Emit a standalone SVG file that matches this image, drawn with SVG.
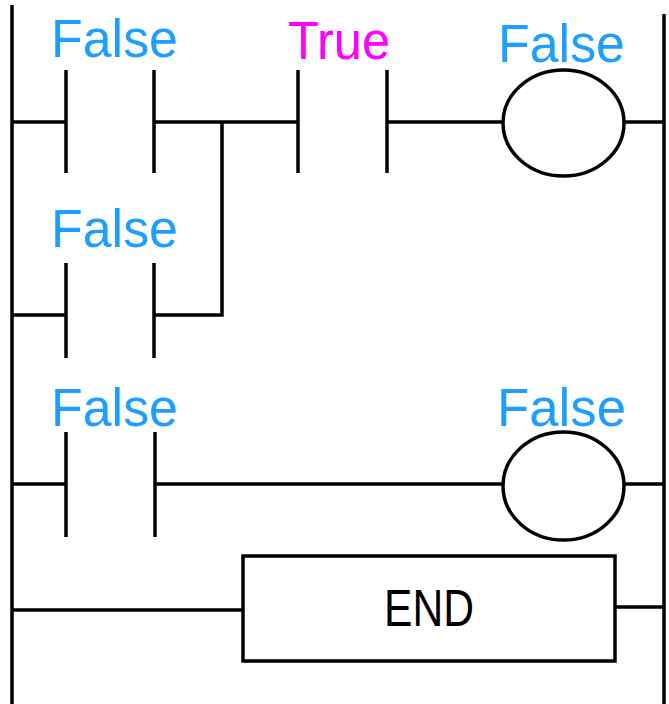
<svg xmlns="http://www.w3.org/2000/svg" width="669" height="704" viewBox="0 0 669 704">
<style>
.w{stroke:#000;stroke-width:3.5;fill:none;stroke-linecap:butt}
.lbl{font-family:"Liberation Sans",Arial,sans-serif;font-size:54px;fill:#1E9FFF}
.tru{fill:#FF00FF}
.end{font-family:"Liberation Sans",Arial,sans-serif;font-size:52px;fill:#000}
</style>
<rect width="669" height="704" fill="#fff"/>
<g id="rails">
<line class="w" x1="12" y1="5" x2="12" y2="704"/>
<line class="w" x1="664" y1="14" x2="664" y2="704"/>
</g>
<g id="connectors">
<line class="w" x1="12" y1="122" x2="66" y2="122"/>
<polyline class="w" points="154,122 298,122"/>
<line class="w" x1="387" y1="122" x2="503" y2="122"/>
<line class="w" x1="624" y1="122" x2="664" y2="122"/>
<line class="w" x1="12" y1="315" x2="66" y2="315"/>
<polyline class="w" points="154,315 222,315 222,122"/>
<line class="w" x1="12" y1="484" x2="66" y2="484"/>
<line class="w" x1="155" y1="484" x2="503" y2="484"/>
<line class="w" x1="624" y1="484" x2="664" y2="484"/>
<line class="w" x1="12" y1="610" x2="243" y2="610"/>
<line class="w" x1="615" y1="607" x2="664" y2="607"/>
</g>
<g id="contact1">
<line class="w" x1="66" y1="70" x2="66" y2="173"/>
<line class="w" x1="154" y1="70" x2="154" y2="173"/>
<text class="lbl" x="51" y="57" textLength="127" lengthAdjust="spacingAndGlyphs">False</text>
</g>
<g id="contact2">
<line class="w" x1="298" y1="70" x2="298" y2="173"/>
<line class="w" x1="387" y1="70" x2="387" y2="173"/>
<text class="lbl tru" x="288" y="59" textLength="102" lengthAdjust="spacingAndGlyphs">True</text>
</g>
<g id="coil1">
<ellipse class="w" cx="563.5" cy="123" rx="60.5" ry="53"/>
<text class="lbl" x="498" y="62" textLength="127" lengthAdjust="spacingAndGlyphs">False</text>
</g>
<g id="contact3">
<line class="w" x1="66" y1="263" x2="66" y2="358"/>
<line class="w" x1="154" y1="263" x2="154" y2="358"/>
<text class="lbl" x="51" y="247" textLength="127" lengthAdjust="spacingAndGlyphs">False</text>
</g>
<g id="contact4">
<line class="w" x1="66" y1="432" x2="66" y2="537"/>
<line class="w" x1="155" y1="432" x2="155" y2="537"/>
<text class="lbl" x="51" y="426" textLength="127" lengthAdjust="spacingAndGlyphs">False</text>
</g>
<g id="coil2">
<ellipse class="w" cx="563.5" cy="486" rx="60.5" ry="54"/>
<text class="lbl" x="497" y="426" textLength="129" lengthAdjust="spacingAndGlyphs">False</text>
</g>
<g id="end">
<rect class="w" x="243" y="556" width="372" height="105"/>
<text class="end" x="384" y="626" textLength="90" lengthAdjust="spacingAndGlyphs">END</text>
</g>
</svg>
